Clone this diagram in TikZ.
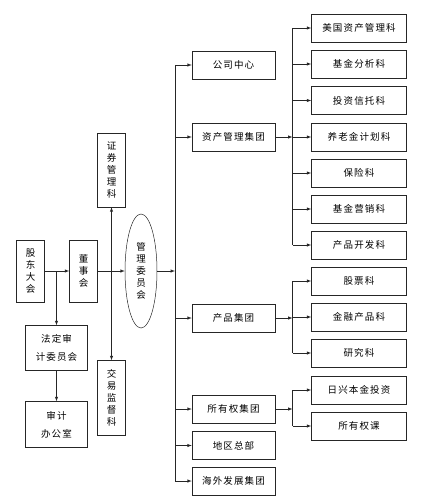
\documentclass[tikz,border=0pt]{standalone}
\usepackage{fontspec}
\newfontfamily\cjk[LetterSpace=12]{Noto Sans CJK SC}
\usetikzlibrary{shapes.geometric}

\begin{document}
\begin{tikzpicture}
          [x=1pt,y=-1pt,>=latex,line width=0.5pt,draw=black!85,
           every node/.style={draw=black!85,inner sep=0pt,align=center,font=\cjk\fontsize{9.5}{12}\selectfont},
           midbox/.style={minimum width=83pt,minimum height=28pt},
           subbox/.style={minimum width=95pt,minimum height=28pt},
           tallbox/.style={minimum width=28pt,minimum height=62pt},
           twoline/.style={minimum width=62pt,minimum height=45pt,font=\cjk\fontsize{9.5}{18}\selectfont}]

          \useasboundingbox (0,0) rectangle (424,500);

          \node[tallbox] (gd) at (30.5, 271) {股\\东\\大\\会};
          \node[tallbox] (ds) at (83.5, 271) {董\\事\\会};
          \node[ellipse,minimum width=32pt,minimum height=114pt] (gl) at (141, 271) {管\\理\\委\\员\\会};
          \node[minimum width=28pt,minimum height=74pt] (zq) at (111.5, 170) {证\\券\\管\\理\\科};
          \node[minimum width=28pt,minimum height=75pt] (jy) at (111.5, 398) {交\\易\\监\\督\\科};
          \node[twoline] (fd) at (56.5, 348) {法定审\\计委员会};
          \node[twoline,minimum height=46pt] (sj) at (56.5, 424.5) {审计\\办公室};

          \node[midbox] (gs) at (233.5, 65) {公司中心};
          \node[midbox] (zc) at (233.5, 137) {资产管理集团};
          \node[midbox] (cp) at (233.5, 318) {产品集团};
          \node[midbox] (sy) at (233.5, 409) {所有权集团};
          \node[midbox] (dq) at (233.5, 445.5) {地区总部};
          \node[midbox] (hw) at (233.5, 481) {海外发展集团};

          \node[subbox] (mg) at (359, 28) {美国资产管理科};
          \node[subbox] (jj) at (359, 64) {基金分析科};
          \node[subbox] (tz) at (359, 100.5) {投资信托科};
          \node[subbox] (yl) at (359, 137) {养老金计划科};
          \node[subbox] (bx) at (359, 173) {保险科};
          \node[subbox] (yx) at (359, 209) {基金营销科};
          \node[subbox] (kf) at (359, 245) {产品开发科};
          \node[subbox] (gp) at (359, 281) {股票科};
          \node[subbox] (jr) at (359, 317) {金融产品科};
          \node[subbox] (yj) at (359, 353) {研究科};
          \node[subbox] (rx) at (359, 390) {日兴本金投资};
          \node[subbox] (sk) at (359, 426) {所有权课};

          \coordinate (gdfork) at (56.5, 271);
          \coordinate (bus) at (175, 271);
          \coordinate (zcbus) at (292.5, 137);
          \coordinate (cpbus) at (292.5, 318);
          \coordinate (sybus) at (292.5, 409);

          % left part
          \draw[->] (gd) -- (ds);
          \draw[->] (gdfork) -- (fd);
          \draw[->] (fd) -- (sj);
          \draw[->] (ds) -- (gl);
          \draw[<->] (zq) -- (jy);
          \draw[->] (gl) -- (bus);

          % main bus
          \draw (bus |- gs) -- (bus |- hw);
          \draw[->] (bus |- gs) -- (gs);
          \draw[->] (bus |- zc) -- (zc);
          \draw[->] (bus |- cp) -- (cp);
          \draw[->] (bus |- sy) -- (sy);
          \draw[->] (bus |- dq) -- (dq);
          \draw[->] (bus |- hw) -- (hw);

          % asset group
          \draw[->] (zc) -- (zcbus);
          \draw (zcbus |- mg) -- (zcbus |- kf);
          \draw[->] (zcbus |- mg) -- (mg);
          \draw[->] (zcbus |- jj) -- (jj);
          \draw[->] (zcbus |- tz) -- (tz);
          \draw[->] (zcbus |- yl) -- (yl);
          \draw[->] (zcbus |- bx) -- (bx);
          \draw[->] (zcbus |- yx) -- (yx);
          \draw[->] (zcbus |- kf) -- (kf);

          % product group
          \draw[->] (cp) -- (cpbus);
          \draw (cpbus |- gp) -- (cpbus |- yj);
          \draw[->] (cpbus |- gp) -- (gp);
          \draw[->] (cpbus |- jr) -- (jr);
          \draw[->] (cpbus |- yj) -- (yj);

          % ownership group
          \draw[->] (sy) -- (sybus);
          \draw (sybus |- rx) -- (sybus |- sk);
          \draw[->] (sybus |- rx) -- (rx);
          \draw[->] (sybus |- sk) -- (sk);
        \end{tikzpicture}
\end{document}
